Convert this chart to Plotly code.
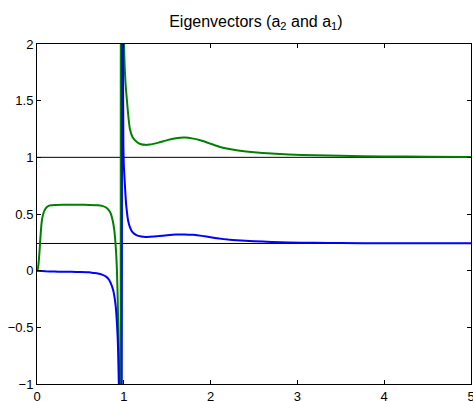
import plotly.graph_objects as go

# Blue eigenvector component (a2)
blue_x = [0, 0.1, 0.2, 0.3, 0.4, 0.5, 0.6, 0.65, 0.7, 0.75, 0.8, 0.83, 0.86, 0.88, 0.9, 0.91, 0.92,
          0.93, 0.94, 0.95, 0.96, 0.97, 0.985, 0.99, 0.995, 1.0, 1.01, 1.02, 1.03, 1.05, 1.07, 1.1,
          1.15, 1.2, 1.25, 1.3, 1.4, 1.5, 1.6, 1.7, 1.8, 1.9, 2.0, 2.1, 2.2, 2.3, 2.5, 2.7, 2.9,
          3.2, 3.5, 4.0, 4.5, 5.0]
blue_y = [0, -0.005, -0.008, -0.01, -0.01, -0.012, -0.015, -0.02, -0.025, -0.035, -0.055, -0.08,
          -0.13, -0.18, -0.27, -0.34, -0.45, -0.6, -0.85, -1.3, -3.0, -6.0, 6.0, 2.0, 1.1, 0.93,
          0.79, 0.66, 0.56, 0.44, 0.385, 0.34, 0.312, 0.302, 0.298, 0.299, 0.305, 0.313, 0.319,
          0.32, 0.316, 0.307, 0.295, 0.283, 0.274, 0.268, 0.26, 0.253, 0.249, 0.246, 0.244,
          0.242, 0.241, 0.241]

# Green eigenvector component (a1)
green_x = [0, 0.01, 0.02, 0.03, 0.04, 0.05, 0.06, 0.08, 0.10, 0.13, 0.16, 0.2, 0.3, 0.4, 0.5,
           0.6, 0.7, 0.75, 0.8, 0.84, 0.87, 0.89, 0.91, 0.92, 0.93, 0.94, 0.95, 0.962, 0.968,
           0.985, 1.0, 1.01, 1.02, 1.033, 1.05, 1.07, 1.1, 1.15, 1.2, 1.25, 1.3, 1.4, 1.5, 1.6,
           1.7, 1.8, 1.9, 2.0, 2.1, 2.2, 2.3, 2.5, 2.7, 2.9, 3.2, 3.5, 4.0, 4.5, 5.0]
green_y = [0, 0.02, 0.08, 0.18, 0.30, 0.40, 0.46, 0.52, 0.55, 0.57, 0.577, 0.58, 0.582, 0.582,
           0.581, 0.58, 0.578, 0.572, 0.555, 0.52, 0.45, 0.36, 0.18, 0.02, -0.25, -0.7, -1.6,
           -8.0, 8.0, 2.6, 2.05, 1.8, 1.65, 1.53, 1.38, 1.25, 1.18, 1.135, 1.115, 1.11, 1.113,
           1.13, 1.152, 1.168, 1.174, 1.165, 1.146, 1.12, 1.093, 1.075, 1.062, 1.045, 1.033,
           1.025, 1.018, 1.013, 1.008, 1.005, 1.003]

# Reference horizontal lines
ref_levels = [1.0, 0.24]

x_ticks = [0, 1, 2, 3, 4, 5]
y_ticks = [-1, -0.5, 0, 0.5, 1, 1.5, 2]
y_tick_text = ["\u22121", "\u22120.5", "0", "0.5", "1", "1.5", "2"]

fig = go.Figure()
for lv in ref_levels:
    fig.add_trace(go.Scatter(x=[0, 5], y=[lv, lv], mode="lines",
                             line=dict(color="black", width=1), hoverinfo="skip"))
fig.add_trace(go.Scatter(x=green_x, y=green_y, mode="lines",
                         line=dict(color="#008000", width=2, shape="spline", smoothing=0.4)))
fig.add_trace(go.Scatter(x=blue_x, y=blue_y, mode="lines",
                         line=dict(color="#0000FF", width=2, shape="spline", smoothing=0.4)))

axis_common = dict(showgrid=False, zeroline=False, showline=True, linecolor="black",
                   linewidth=1, mirror="ticks", ticks="inside", ticklen=4,
                   tickcolor="black", automargin=False, ticklabeloverflow="allow",
                   tickfont=dict(size=13, color="black"))

fig.update_layout(
    width=473, height=401,
    margin=dict(l=37, r=2, t=44, b=17, autoexpand=False),
    paper_bgcolor="white", plot_bgcolor="white",
    showlegend=False,
    font=dict(family="Liberation Sans, Arial, sans-serif", color="black"),
    title=dict(text="Eigenvectors (a<sub>2</sub> and a<sub>1</sub>)", x=0.541, xanchor="center",
               xref="container",
               y=0.947, yanchor="middle", font=dict(size=16, color="black")),
    xaxis=dict(range=[0, 5], tickvals=x_ticks, ticktext=[str(v) for v in x_ticks], **axis_common),
    yaxis=dict(range=[-1, 2], tickvals=y_ticks, ticktext=y_tick_text, **axis_common),
)

fig.write_html("out.html", config={"displayModeBar": False},
               post_script="document.body.style.margin='0';document.body.style.overflow='hidden';")
